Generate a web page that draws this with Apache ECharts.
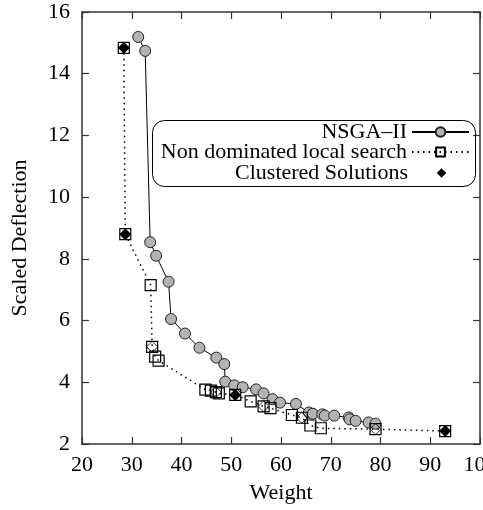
<!DOCTYPE html>
<html>
<head>
<meta charset="utf-8">
<script src="https://cdn.jsdelivr.net/npm/echarts@6/dist/echarts.min.js"></script>
<style>
  html, body { margin: 0; padding: 0; background: #fff; }
  #chart { width: 483px; height: 510px; }
</style>
</head>
<body>
<div id="chart"></div>
<script>
// NSGA-II front
var nsgaWeight = [31.3, 32.7, 33.7, 34.9, 37.4, 37.9, 40.7, 43.6, 47.0, 48.6, 48.8, 50.6, 52.3, 55.0, 56.5, 58.3, 59.8, 63.0, 65.6, 66.4, 68.3, 68.8, 70.7, 73.6, 73.8, 75.0, 77.6, 79.0];
var nsgaDeflection = [15.19, 14.74, 8.54, 8.1, 7.26, 6.05, 5.58, 5.12, 4.8, 4.59, 4.02, 3.9, 3.84, 3.77, 3.64, 3.45, 3.34, 3.3, 3.02, 2.98, 2.96, 2.92, 2.92, 2.86, 2.8, 2.75, 2.7, 2.66];

// non dominated local search
var localWeight = [28.4, 28.7, 33.8, 34.1, 34.7, 35.4, 44.8, 45.9, 46.9, 47.5, 50.8, 53.9, 56.5, 57.9, 62.2, 64.2, 65.9, 68.0, 79.0, 93.0];
var localDeflection = [14.84, 8.8, 7.15, 5.15, 4.83, 4.7, 3.76, 3.73, 3.68, 3.64, 3.59, 3.38, 3.22, 3.16, 2.94, 2.85, 2.6, 2.51, 2.48, 2.42];

// clustered solutions
var clusterWeight = [28.4, 28.7, 50.8, 93.0];
var clusterDeflection = [14.84, 8.8, 3.59, 2.42];

// hollow diamonds seen inside some squares
var hollowWeight = [34.1, 46.9, 56.5, 64.2, 79.0];
var hollowDeflection = [5.15, 3.68, 3.22, 2.85, 2.48];

var xTicks = [20, 30, 40, 50, 60, 70, 80, 90, 100];
var yTicks = [2, 4, 6, 8, 10, 12, 14, 16];

function zip(a, b) {
  return a.map(function (v, i) { return [v, b[i]]; });
}

var font = "'Liberation Serif', 'DejaVu Serif', serif";
var axisColor = "#333";

var chart = echarts.init(document.getElementById("chart"));

var frameAxis = function (pos, type) {
  return {
    type: "value",
    position: pos,
    min: type === "x" ? xTicks[0] : yTicks[0],
    max: type === "x" ? xTicks[xTicks.length - 1] : yTicks[yTicks.length - 1],
    interval: type === "x" ? 10 : 2,
    axisLine: { show: true, lineStyle: { color: axisColor, width: 1.5 } },
    axisTick: { show: true, inside: true, length: 7, lineStyle: { color: axisColor, width: 1.2 } },
    axisLabel: { show: false },
    splitLine: { show: false }
  };
};

var legendBox = function (name, top, h) {
  return {
    data: [name],
    right: 13, top: top, padding: 0,
    align: "right",
    itemWidth: 57, itemHeight: h, itemGap: 6,
    textStyle: { fontFamily: font, fontSize: 22, color: "#000" }
  };
};

var option = {
  backgroundColor: "#fff",
  animation: false,
  grid: { left: 82, right: 3, top: 12, bottom: 66, outerBoundsMode: "none" },
  xAxis: [
    {
      type: "value",
      position: "bottom",
      min: xTicks[0],
      max: xTicks[xTicks.length - 1],
      interval: 10,
      name: "Weight",
      nameLocation: "middle",
      nameGap: 38,
      nameTextStyle: { fontFamily: font, fontSize: 22, color: "#000" },
      axisLine: { show: true, lineStyle: { color: axisColor, width: 1.5 } },
      axisTick: { show: true, inside: true, length: 7, lineStyle: { color: axisColor, width: 1.2 } },
      axisLabel: { fontFamily: font, fontSize: 22, color: "#000", margin: 10 },
      splitLine: { show: false }
    },
    frameAxis("top", "x")
  ],
  yAxis: [
    {
      type: "value",
      position: "left",
      min: yTicks[0],
      max: yTicks[yTicks.length - 1],
      interval: 2,
      name: "Scaled Deflection",
      nameLocation: "middle",
      nameGap: 51,
      nameTextStyle: { fontFamily: font, fontSize: 22, color: "#000", padding: [0, 20, 0, 0] },
      axisLine: { show: true, lineStyle: { color: axisColor, width: 1.5 } },
      axisTick: { show: true, inside: true, length: 7, lineStyle: { color: axisColor, width: 1.2 } },
      axisLabel: { fontFamily: font, fontSize: 22, color: "#000", margin: 12 },
      splitLine: { show: false }
    },
    frameAxis("right", "y")
  ],
  graphic: [
    {
      type: "rect",
      left: 152,
      top: 120,
      shape: { width: 323, height: 66, r: 12 },
      style: { fill: "rgba(0,0,0,0)", stroke: "#000", lineWidth: 1 },
      z: 5
    }
  ],
  legend: [
    legendBox("NSGA\u2013II", 121, 12),
    legendBox("Non dominated local search", 141, 11),
    legendBox("Clustered Solutions", 162, 12)
  ],
  series: [
    {
      name: "NSGA\u2013II",
      type: "line",
      data: zip(nsgaWeight, nsgaDeflection),
      symbol: "circle",
      symbolSize: 11,
      itemStyle: { color: "#b3b3b3", borderColor: "#222", borderWidth: 1 },
      lineStyle: { color: "#000", width: 1 },
      z: 2
    },
    {
      name: "Non dominated local search",
      type: "line",
      data: zip(localWeight, localDeflection),
      symbol: "rect",
      symbolSize: 11,
      itemStyle: { color: "rgba(255,255,255,0)", borderColor: "#000", borderWidth: 1.2 },
      lineStyle: { color: "#000", width: 1.5, type: [1.5, 4] },
      z: 3
    },
    {
      name: "hollow",
      type: "scatter",
      data: zip(hollowWeight, hollowDeflection),
      symbol: "diamond",
      symbolSize: 11,
      itemStyle: { color: "rgba(255,255,255,0)", borderColor: "#000", borderWidth: 1 },
      z: 4
    },
    {
      name: "Clustered Solutions",
      type: "line",
      data: zip(clusterWeight, clusterDeflection),
      symbol: "diamond",
      symbolSize: 12,
      itemStyle: { color: "#000" },
      lineStyle: { width: 0, opacity: 0 },
      z: 5
    }
  ]
};

chart.setOption(option);
</script>
</body>
</html>
